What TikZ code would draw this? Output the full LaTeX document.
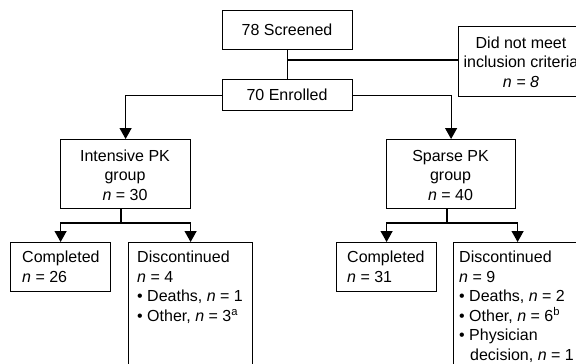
\documentclass[tikz,border=0pt]{standalone}
\usepackage{fontspec}
\setmainfont{Liberation Sans}
\usetikzlibrary{arrows.meta}
\tikzset{
  box/.style={draw, line width=1.2pt, inner sep=0pt, anchor=north west},
  txt/.style={inner sep=0pt, font=\fontsize{16}{19.5}\selectfont},
  ln/.style={line width=1.2pt},
  arr/.style={line width=1.2pt, -{Triangle[width=12pt,length=11pt]}},
}
\newcommand{\nn}{\textit{n}}
\begin{document}
\begin{tikzpicture}[x=1pt,y=-1pt]
\useasboundingbox (0,0) rectangle (576,364);
\clip (0,0) rectangle (576,364);
% top boxes
\node[box, minimum width=130pt, minimum height=39pt] (scr) at (222,10) {};
\node[txt] (scrt) at (287,30) {78 Screened};
\node[box, minimum width=130pt, minimum height=31pt] (enr) at (222,79) {};
\node[txt] (enrt) at (287,94.5) {70 Enrolled};
\node[box, minimum width=130pt, minimum height=70pt] (dnm) at (458,26) {};
\node[txt, align=center] (dnmt) at (521,62) {Did not meet\\inclusion criteria\\\textit{n = 8}};
% groups
\node[box, minimum width=130pt, minimum height=69pt] (int) at (60,139) {};
\node[txt, align=center] (intt) at (125,175) {Intensive PK\\group\\\nn{} = 30};
\node[box, minimum width=129pt, minimum height=69pt] (spa) at (386,139) {};
\node[txt, align=center] (spat) at (450.5,175) {Sparse PK\\group\\\nn{} = 40};
% outcomes
\node[box, minimum width=100pt, minimum height=49pt] (c1) at (10,242) {};
\node[txt, align=left, anchor=north west] (c1t) at (22,251) {Completed\\\nn{} = 26};
\node[box, minimum width=124pt, minimum height=140pt] (d1) at (128,242) {};
\node[txt, align=left, anchor=north west] (d1t) at (137,251) {Discontinued\\\nn{} = 4\\\textbullet{} Deaths, \nn{} = 1\\\textbullet{} Other, \nn{} = 3\textsuperscript{a}};
\node[box, minimum width=100pt, minimum height=49pt] (c2) at (336,242) {};
\node[txt, align=left, anchor=north west] (c2t) at (347,251) {Completed\\\nn{} = 31};
\node[box, minimum width=128pt, minimum height=140pt] (d2) at (453,242) {};
\node[txt, align=left, anchor=north west] (d2t) at (459,251) {Discontinued\\\nn{} = 9\\\textbullet{} Deaths, \nn{} = 2\\\textbullet{} Other, \nn{} = 6\textsuperscript{b}\\\textbullet{} Physician\\\hspace*{11pt}decision, \nn{} = 1};
% connectors
\coordinate (sj) at (287,60);
\draw[ln] (scr.south) -- (enr.north);
\draw[ln] (sj) -- (dnm.west |- sj);
\draw[arr] (enr.west) -| (int.north);
\draw[arr] (enr.east) -| (spa.north);
\coordinate (ij) at (121,223);
\coordinate (sj2) at (447,223);
\draw[ln] (int.south -| ij) -- (ij);
\draw[arr] (ij) -| (c1.north);
\draw[arr] (ij) -| (d1.north);
\draw[ln] (spa.south -| sj2) -- (sj2);
\draw[arr] (sj2) -| (c2.north);
\draw[arr] (sj2) -| (d2.north);
\end{tikzpicture}
\end{document}
